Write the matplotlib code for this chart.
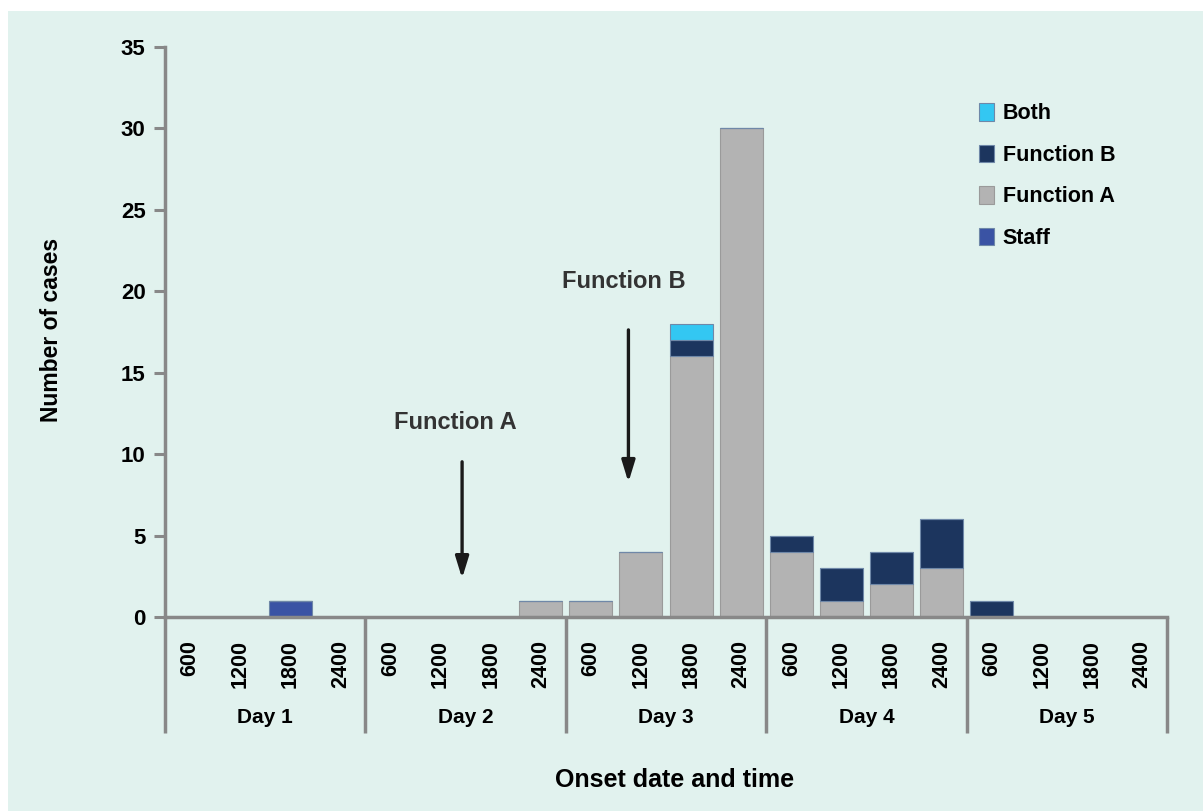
import numpy as np
import matplotlib
matplotlib.use("Agg")
import matplotlib.pyplot as plt
from matplotlib.patches import Rectangle

plt.rcParams["font.family"] = ["Liberation Sans", "DejaVu Sans"]
plt.rcParams["font.weight"] = "bold"

DAYS = ["Day 1", "Day 2", "Day 3", "Day 4", "Day 5"]
TIMES = ["600", "1200", "1800", "2400"]
# cases per 6-hour slot, 20 slots (Day 1 600 ... Day 5 2400)
staff = [0, 0, 1, 0,  0, 0, 0, 0,  0, 0, 0, 0,  0, 0, 0, 0,  0, 0, 0, 0]
func_a = [0, 0, 0, 0,  0, 0, 0, 1,  1, 4, 16, 30,  4, 1, 2, 3,  0, 0, 0, 0]
func_b = [0, 0, 0, 0,  0, 0, 0, 0,  0, 0, 1, 0,  1, 2, 2, 3,  1, 0, 0, 0]
both = [0, 0, 0, 0,  0, 0, 0, 0,  0, 0, 1, 0,  0, 0, 0, 0,  0, 0, 0, 0]

COLORS = {"Staff": "#3a53a4", "Function A": "#b3b3b3",
          "Function B": "#1c355e", "Both": "#33c7f2"}
GRAY = "#888888"
BG = "#e1f2ee"

fig = plt.figure(figsize=(12.03, 8.11), dpi=100, facecolor="white")
bg = Rectangle((8 / 1203, 0), 1 - 8 / 1203, 1 - 11 / 811,
               transform=fig.transFigure, facecolor=BG, edgecolor="none")
bg.set_zorder(-10)
fig.add_artist(bg)
ax = fig.add_axes([165 / 1203, 1 - 617 / 811, 1002 / 1203, 570 / 811])
ax.set_zorder(1)
ax.set_facecolor("none")

x = np.arange(len(func_a))
w = 0.86
bottom = np.zeros(len(x))
series = [("Staff", staff), ("Function A", func_a), ("Function B", func_b), ("Both", both)]
handles = {}
for name, vals in series:
    v = np.array(vals, dtype=float)
    edge = "#9a9a9a" if name == "Function A" else "#6f88a8"
    bars = ax.bar(x, v, w, bottom=bottom, color=COLORS[name], edgecolor=edge,
                  linewidth=0.8, label=name, zorder=3)
    handles[name] = bars
    bottom += v

ax.set_xlim(-0.5, len(x) - 0.5)
ax.set_ylim(0, 35)
ax.set_yticks(range(0, 36, 5))
ax.tick_params(axis="y", length=8, width=2.2, color=GRAY, labelsize=16, pad=6)
ax.set_xticks([])
for s in ["top", "right"]:
    ax.spines[s].set_visible(False)
ax.spines["left"].set_color(GRAY)
ax.spines["left"].set_linewidth(2.5)
ax.spines["bottom"].set_color(GRAY)
ax.spines["bottom"].set_linewidth(2.5)
ax.spines["bottom"].set_zorder(4)

# time labels and day separators below axis
trans = ax.get_xaxis_transform()
for i in x:
    ax.text(i, -0.04, TIMES[i % 4], rotation=90, ha="center", va="top",
            fontsize=15.5, fontweight="bold", transform=trans)
for d in range(len(DAYS) + 1):
    ax.plot([d * 4 - 0.5] * 2, [0, -0.203], color=GRAY, lw=2.5,
            transform=trans, clip_on=False, solid_capstyle="butt")
for d, day in enumerate(DAYS):
    ax.text(d * 4 + 1.5, -0.177, day, ha="center", va="center",
            fontsize=15, fontweight="bold", transform=trans)

fig.text(675 / 1203, 1 - 780 / 811, "Onset date and time", ha="center",
         va="center", fontsize=18, fontweight="bold")
fig.text(52 / 1203, 1 - 330 / 811, "Number of cases", ha="center",
         va="center", rotation=90, fontsize=16.5, fontweight="bold")

# function markers
ax.annotate("", xy=(5.43, 2.2), xytext=(5.43, 9.7),
            arrowprops=dict(arrowstyle="-|>,head_width=0.4,head_length=1.3",
                            color="#1a1a1a", lw=2.4))
ax.text(5.3, 11.95, "Function A", ha="center", va="center", fontsize=17,
        fontweight="bold", color="#333333")
ax.annotate("", xy=(8.75, 8.1), xytext=(8.75, 17.8),
            arrowprops=dict(arrowstyle="-|>,head_width=0.4,head_length=1.3",
                            color="#1a1a1a", lw=2.4))
ax.text(8.66, 20.6, "Function B", ha="center", va="center", fontsize=17,
        fontweight="bold", color="#333333")

order = ["Both", "Function B", "Function A", "Staff"]
leg = ax.legend([handles[n] for n in order], order, loc="upper left",
                bbox_to_anchor=(795 / 1002, 0.935), frameon=False, fontsize=15.5,
                handlelength=0.68, handleheight=0.85, labelspacing=0.95,
                handletextpad=0.4)
for t in leg.get_texts():
    t.set_fontweight("bold")

fig.savefig("out.png", dpi=100, facecolor="white")
